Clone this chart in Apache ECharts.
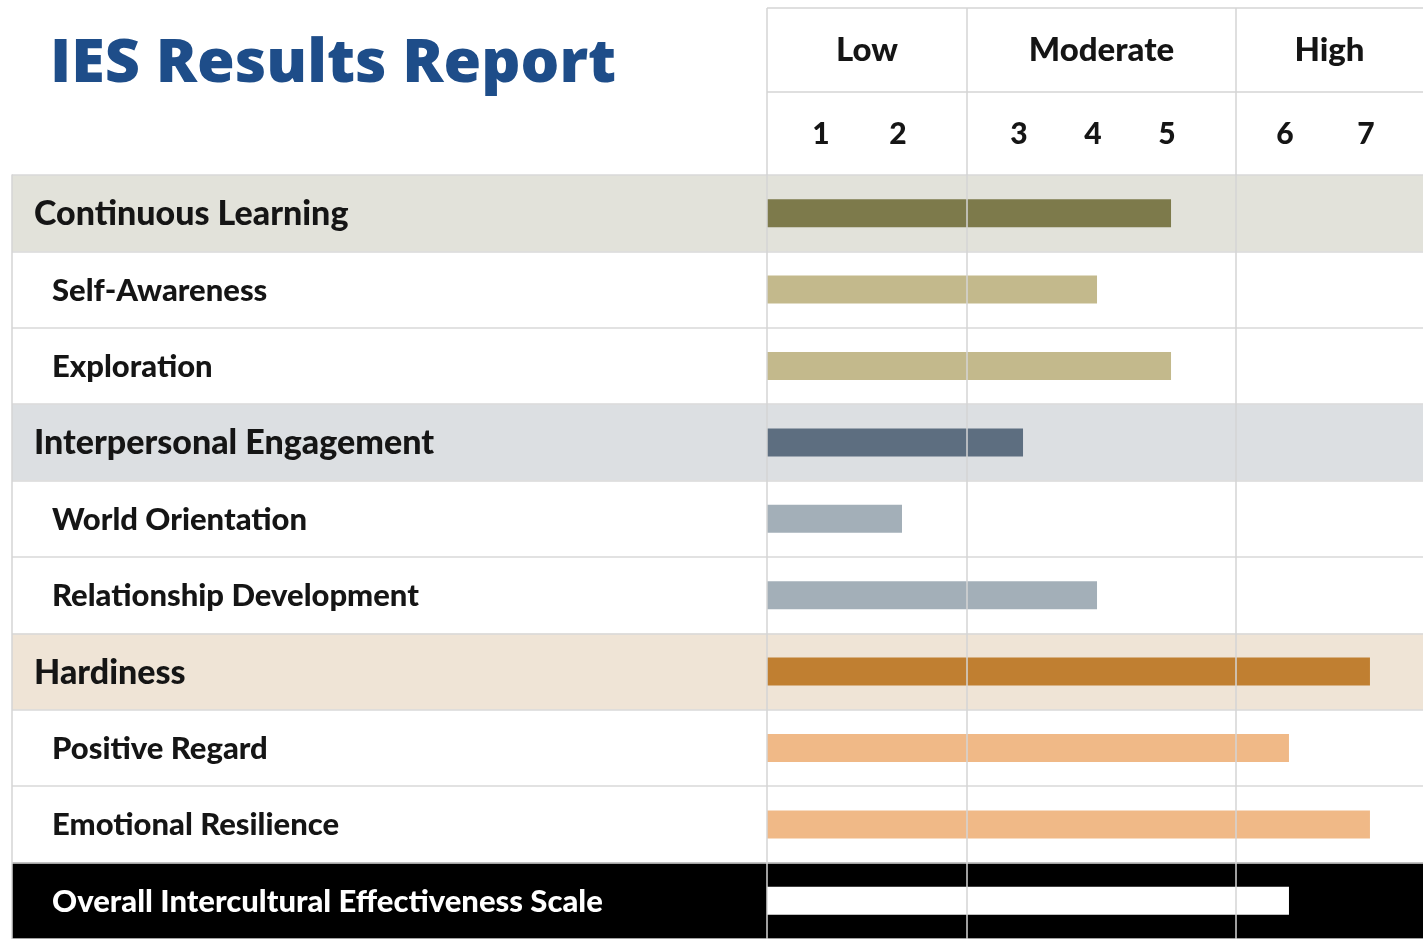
<!DOCTYPE html>
<html><head><meta charset="utf-8">
<script src="https://cdn.jsdelivr.net/npm/echarts@6/dist/echarts.min.js"></script>
<style>html,body{margin:0;padding:0;background:#fff}#c{width:1423px;height:939px}</style>
</head><body><div id="c"></div>
<script>
// ---- data ----
const categories = ['Continuous Learning','Self-Awareness','Exploration','Interpersonal Engagement','World Orientation','Relationship Development','Hardiness','Positive Regard','Emotional Resilience','Overall Intercultural Effectiveness Scale'];
const rowKinds = ['head','sub','sub','head','sub','sub','head','sub','sub','total'];
const scores = [5,4,5,3,2,4,7,6,7,6];
const barColors = ['#7d7a4b','#c3b98c','#c3b98c','#5d6e80','#a3afb8','#a3afb8','#c07f31','#f0b987','#f0b987','#ffffff'];
const bandColors = ['#e2e2da',null,null,'#dcdfe2',null,null,'#efe4d6',null,null,'#000000'];
const levelNames = ['Low','Moderate','High'];
const levelTicks = [[1,2],[3,4,5],[6,7]];

// ---- layout ----
const FONT = 'Lato, "Open Sans", sans-serif';
const TITLE_FONT = '"Open Sans", Lato, sans-serif';
const TOP = 175, H = 770;
const sections = [
  {left:767, width:200, min:0.247, max:2.844},
  {left:967, width:269, min:2.243, max:5.878},
  {left:1236, width:187, min:5.346, max:7.655}
];
const lineColor = '#d4d4d4';

const grids = [{left:12, width:1411, top:TOP, height:H}];
const xAxes = [{gridIndex:0, type:'value', min:0, max:1, show:false}];
const yAxes = [{
  gridIndex:0, type:'category', data:categories, inverse:true, z:10,
  axisLine:{show:true, lineStyle:{color:lineColor, width:1.5}},
  axisTick:{show:false},
  splitLine:{show:true, lineStyle:{color:'#d9d9d9', width:1.5}},
  axisLabel:{
    inside:true, margin:22,
    formatter:(v)=>{ const k = rowKinds[categories.indexOf(v)]; return k==='head' ? '{h|'+v+'}' : (k==='total' ? '{t|'+v+'}' : '{s|'+v+'}'); },
    rich:{
      h:{fontFamily:FONT, fontSize:34, fontWeight:900, color:'#151515', padding:[2,0,0,0]},
      s:{fontFamily:FONT, fontSize:31, fontWeight:900, color:'#151515', padding:[2,0,0,18]},
      t:{fontFamily:FONT, fontSize:31, fontWeight:900, color:'#ffffff', padding:[2,0,0,18]}
    }
  }
}];
const series = [{
  type:'bar', xAxisIndex:0, yAxisIndex:0, barWidth:'100%', silent:true, z:1,
  data: categories.map((c,i)=>({value:1, itemStyle:{color: bandColors[i] || 'rgba(0,0,0,0)'}}))
}];

sections.forEach((s,i)=>{
  const gi = i+1;
  grids.push({left:s.left, width:s.width, top:TOP, height:H});
  xAxes.push({
    gridIndex:gi, type:'value', min:s.min, max:s.max, position:'top',
    axisLine:{show:false}, axisTick:{show:false}, splitLine:{show:false},
    axisLabel:{customValues:levelTicks[i], margin:26, fontFamily:FONT, fontSize:30, fontWeight:900, color:'#151515', padding:[0,8,0,0]},
    name:levelNames[i], nameLocation:'middle', nameGap:108,
    nameTextStyle:{fontFamily:FONT, fontSize:33, fontWeight:900, color:'#151515'}
  });
  yAxes.push({
    gridIndex:gi, type:'category', data:categories, inverse:true, z:10,
    axisLabel:{show:false}, axisTick:{show:false}, splitLine:{show:false},
    axisLine:{show:true, lineStyle:{color:lineColor, width:1.5}}
  });
  series.push({
    type:'bar', xAxisIndex:gi, yAxisIndex:gi, barWidth:28, clip:true, z:3, silent:true,
    data: scores.map((v,j)=>({value:v, itemStyle:{color:barColors[j]}}))
  });
});

const hdr = (x1,y1,x2,y2)=>({type:'line', z:20, silent:true, shape:{x1,y1,x2,y2}, style:{stroke:lineColor, lineWidth:1.5}});

const chart = echarts.init(document.getElementById('c'), null, {renderer:'canvas'});
chart.setOption({
  animation:false,
  backgroundColor:'#ffffff',
  title:{text:'IES Results Report', left:45, top:29,
    textStyle:{fontFamily:TITLE_FONT, fontSize:61, fontWeight:800, color:'#1e4d89'}},
  grid:grids, xAxis:xAxes, yAxis:yAxes, series:series,
  graphic:[
    hdr(767,8,1423,8), hdr(767,92,1423,92),
    hdr(767,8,767,175), hdr(967,8,967,175), hdr(1236,8,1236,175)
  ]
});
</script></body></html>
